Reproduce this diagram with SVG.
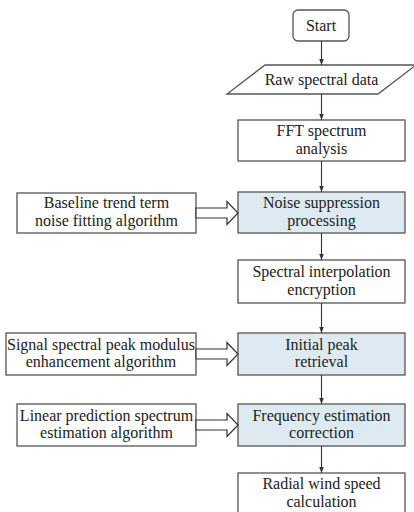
<svg xmlns="http://www.w3.org/2000/svg" width="414" height="512" viewBox="0 0 414 512">
<defs>
<style>
.box{fill:#fff;stroke:#555;stroke-width:1.3}
.hl{fill:#deeaf1;stroke:#555;stroke-width:1.3}
.t{font-family:'Liberation Serif','Times New Roman','DejaVu Serif',serif;font-size:16px;fill:#222;text-anchor:middle}
.con{stroke:#333;stroke-width:1.1;fill:none}
.big{fill:#fff;stroke:#333;stroke-width:1.2;stroke-linejoin:miter}
</style>
<marker id="ah" viewBox="0 0 8 8" refX="8" refY="4" markerWidth="6" markerHeight="6" markerUnits="userSpaceOnUse" orient="auto">
<path d="M0,1 L8,4 L0,7 Z" fill="#333"/>
</marker>
</defs>
<rect width="414" height="512" fill="#fff"/>
<g id="start"><rect class="box" x="293" y="10" width="56" height="31" rx="5"/><text class="t" font-family="Liberation Serif" x="321" y="31">Start</text></g>
<g id="raw"><polygon class="box" points="265,65 416,65 378,94 227,94"/><text class="t" x="321.5" y="85">Raw spectral data</text></g>
<g id="fft"><rect class="box" x="238" y="120" width="167" height="41"/><text class="t" x="321.5" y="136">FFT spectrum</text><text class="t" x="321.5" y="154">analysis</text></g>
<g id="noise"><rect class="hl" x="238" y="192" width="167" height="41"/><text class="t" x="321.5" y="208">Noise suppression</text><text class="t" x="321.5" y="225.5">processing</text></g>
<g id="baseline"><rect class="box" x="17" y="193" width="179" height="40"/><text class="t" x="106.5" y="208">Baseline trend term</text><text class="t" x="106.5" y="225.5">noise fitting algorithm</text></g>
<g id="interp"><rect class="box" x="238" y="260" width="167" height="43"/><text class="t" x="321.5" y="277">Spectral interpolation</text><text class="t" x="321.5" y="295">encryption</text></g>
<g id="initial"><rect class="hl" x="238" y="333" width="167" height="42"/><text class="t" x="321.5" y="349.5">Initial peak</text><text class="t" x="321.5" y="367">retrieval</text></g>
<g id="signal"><rect class="box" x="6" y="333" width="190" height="42"/><text class="t" x="101" y="349.5">Signal spectral peak modulus</text><text class="t" x="101" y="367">enhancement algorithm</text></g>
<g id="freq"><rect class="hl" x="238" y="404" width="167" height="42"/><text class="t" x="321.5" y="420.5">Frequency estimation</text><text class="t" x="321.5" y="438">correction</text></g>
<g id="linear"><rect class="box" x="17" y="404" width="179" height="42"/><text class="t" x="106.5" y="420.5">Linear prediction spectrum</text><text class="t" x="106.5" y="438">estimation algorithm</text></g>
<g id="radial"><rect class="box" x="238" y="473" width="167" height="42"/><text class="t" x="321.5" y="489">Radial wind speed</text><text class="t" x="321.5" y="506.5">calculation</text></g>
<g id="connectors">
<line class="con" x1="321.5" y1="41" x2="321.5" y2="65" marker-end="url(#ah)"/>
<line class="con" x1="321.5" y1="94" x2="321.5" y2="120" marker-end="url(#ah)"/>
<line class="con" x1="321.5" y1="161" x2="321.5" y2="192" marker-end="url(#ah)"/>
<line class="con" x1="321.5" y1="233" x2="321.5" y2="260" marker-end="url(#ah)"/>
<line class="con" x1="321.5" y1="303" x2="321.5" y2="333" marker-end="url(#ah)"/>
<line class="con" x1="321.5" y1="375" x2="321.5" y2="404" marker-end="url(#ah)"/>
<line class="con" x1="321.5" y1="446" x2="321.5" y2="473" marker-end="url(#ah)"/>
<polygon class="big" points="196,208 227,208 227,201.5 238,213 227,224.5 227,218 196,218"/>
<polygon class="big" points="196,349 227,349 227,342.5 238,354 227,365.5 227,359 196,359"/>
<polygon class="big" points="196,420 227,420 227,413.5 238,425 227,436.5 227,430 196,430"/>
</g>
</svg>
